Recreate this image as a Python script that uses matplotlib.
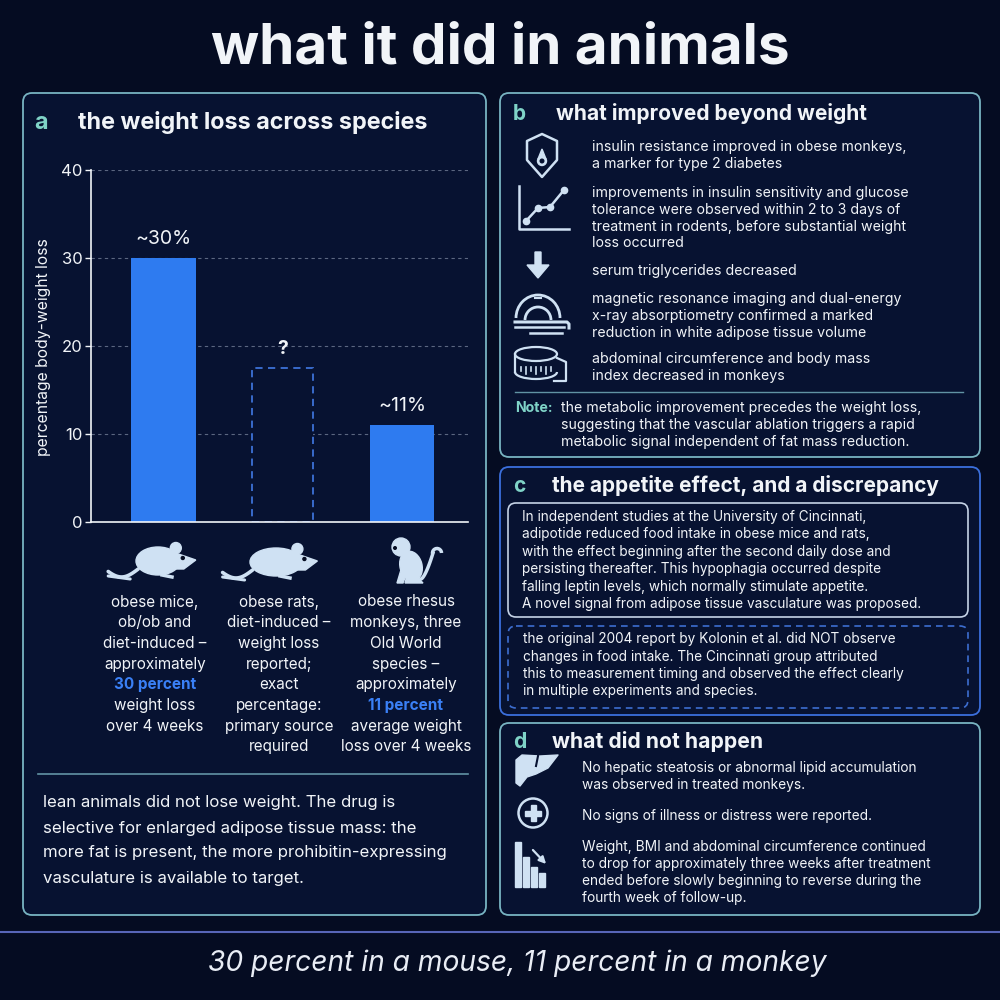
import matplotlib
matplotlib.use("Agg")
import matplotlib.pyplot as plt
import numpy as np
from matplotlib.patches import FancyBboxPatch, Ellipse, Circle, Polygon, Rectangle, Arc

plt.rcParams["font.family"] = ["Inter", "DejaVu Sans"]

BG = "#050c22"
PANEL = "#071231"
TEAL = "#7fd3c7"
BORDER = "#78b4c2"
BORDER_C = "#3b6fdc"
BLUE = "#2e7bf0"
HILITE = "#3a80f6"
WHITE = "#f1f4f8"
ICON = "#cfe1f3"
GRID = "#7f8ba3"

# ---- data -------------------------------------------------------------
species = ["mice", "rats", "monkeys"]
loss_pct = [30, 17.5, 11]          # rats: value unknown, drawn as a dashed placeholder
loss_known = [True, False, True]
bar_labels = ["~30%", "?", "~11%"]
yticks = [0, 10, 20, 30, 40]

species_text = [
    [("obese mice,", 0), ("ob/ob and", 0), ("diet-induced \u2013", 0), ("approximately", 0),
     ("30 percent", 1), ("weight loss", 0), ("over 4 weeks", 0)],
    [("obese rats,", 0), ("diet-induced \u2013", 0), ("weight loss", 0), ("reported;", 0),
     ("exact", 0), ("percentage:", 0), ("primary source", 0), ("required", 0)],
    [("obese rhesus", 0), ("monkeys, three", 0), ("Old World", 0), ("species \u2013", 0),
     ("approximately", 0), ("11 percent", 1), ("average weight", 0), ("loss over 4 weeks", 0)],
]

lean_note = [
    "lean animals did not lose weight. The drug is",
    "selective for enlarged adipose tissue mass: the",
    "more fat is present, the more prohibitin-expressing",
    "vasculature is available to target.",
]

improved_items = [
    ["insulin resistance improved in obese monkeys,", "a marker for type 2 diabetes"],
    ["improvements in insulin sensitivity and glucose",
     "tolerance were observed within 2 to 3 days of",
     "treatment in rodents, before substantial weight", "loss occurred"],
    ["serum triglycerides decreased"],
    ["magnetic resonance imaging and dual-energy",
     "x-ray absorptiometry confirmed a marked",
     "reduction in white adipose tissue volume"],
    ["abdominal circumference and body mass", "index decreased in monkeys"],
]
note_lines = [
    "the metabolic improvement precedes the weight loss,",
    "suggesting that the vascular ablation triggers a rapid",
    "metabolic signal independent of fat mass reduction.",
]

appetite_lines = [
    "In independent studies at the University of Cincinnati,",
    "adipotide reduced food intake in obese mice and rats,",
    "with the effect beginning after the second daily dose and",
    "persisting thereafter. This hypophagia occurred despite",
    "falling leptin levels, which normally stimulate appetite.",
    "A novel signal from adipose tissue vasculature was proposed.",
]
discrepancy_lines = [
    "the original 2004 report by Kolonin et al. did NOT observe",
    "changes in food intake. The Cincinnati group attributed",
    "this to measurement timing and observed the effect clearly",
    "in multiple experiments and species.",
]

not_happen_items = [
    ["No hepatic steatosis or abnormal lipid accumulation", "was observed in treated monkeys."],
    ["No signs of illness or distress were reported."],
    ["Weight, BMI and abdominal circumference continued",
     "to drop for approximately three weeks after treatment",
     "ended before slowly beginning to reverse during the",
     "fourth week of follow-up."],
]

# ---- canvas -----------------------------------------------------------
fig = plt.figure(figsize=(10, 10), dpi=100, facecolor=BG)
ax = fig.add_axes([0, 0, 1, 1])
ax.set_xlim(0, 1000)
ax.set_ylim(1000, 0)
ax.axis("off")
ax.set_facecolor(BG)


def panel(x0, y0, x1, y1, ec=BORDER, ls="-", fc=PANEL, lw=1.3, r=9):
    p = FancyBboxPatch((x0, y0), x1 - x0, y1 - y0,
                       boxstyle=f"round,pad=0,rounding_size={r}",
                       fc=fc, ec=ec, lw=lw, ls=ls)
    ax.add_patch(p)


def lines(x, y0, step, rows, size, color=WHITE, ha="left", weight="normal"):
    for i, r in enumerate(rows):
        ax.text(x, y0 + i * step, r, fontsize=size, color=color, ha=ha, va="center",
                fontweight=weight)


def heading(letter, title, x_l, x_t, y, size=15):
    ax.text(x_l, y, letter, fontsize=size, color=TEAL, fontweight="bold", va="center")
    ax.text(x_t, y, title, fontsize=size, color=WHITE, fontweight="bold", va="center")


ax.text(500, 48, "what it did in animals", fontsize=40.8, fontweight="bold",
        color=WHITE, ha="center", va="center")

panel(23, 93, 486, 915)
panel(500, 93, 980, 457)
panel(500, 467, 980, 715, ec=BORDER_C)
panel(500, 723, 980, 915)

# ---- panel a ----------------------------------------------------------
heading("a", "the weight loss across species", 34, 78, 123, size=16.8)

cax = fig.add_axes([0.091, 0.478, 0.377, 0.352])
cax.set_facecolor("none")
x = np.arange(len(species))
cax.set_xlim(-0.608, 2.553)
cax.set_ylim(0, 40)
for t in yticks[1:]:
    cax.axhline(t, color=GRID, lw=0.8, ls=(0, (3, 3)), alpha=0.7, zorder=0)
for xi, v, known, lab in zip(x, loss_pct, loss_known, bar_labels):
    if known:
        cax.bar(xi, v, width=0.54, color=BLUE, zorder=2)
    else:
        cax.bar(xi, v, width=0.51, facecolor=PANEL, edgecolor="#3d72d8", lw=1.3,
                ls=(0, (4, 3)), zorder=2)
    cax.annotate(lab, (xi, v), xytext=(0, 14), textcoords="offset points",
                 ha="center", va="center", fontsize=14, color=WHITE,
                 fontweight="bold" if lab == "?" else "normal")
cax.set_yticks(yticks)
cax.set_xticks([])
cax.tick_params(axis="y", colors=WHITE, labelsize=12, length=4, width=1, pad=2)
for s in ["top", "right"]:
    cax.spines[s].set_visible(False)
cax.spines["left"].set_color(WHITE)
cax.spines["bottom"].set_color(WHITE)
cax.spines["left"].set_linewidth(1.2)
cax.spines["bottom"].set_linewidth(1.2)
ax.text(44, 347, "percentage body-weight loss", rotation=90, fontsize=11.3,
        color=WHITE, ha="center", va="center")


# animal icons
def mouse(cx, cy, s=1.0, rat=False):
    bw = 44 if not rat else 52
    ax.add_patch(Ellipse((cx, cy), bw * s, 28 * s, color=ICON))
    hx = cx + bw * 0.45 * s
    ax.add_patch(Polygon([[hx - 8 * s, cy - 10 * s], [hx + 18 * s, cy - 1 * s],
                          [hx + 6 * s, cy + 8 * s], [hx - 10 * s, cy + 8 * s]], color=ICON))
    ax.add_patch(Circle((hx - 2 * s, cy - 13 * s), 5.5 * s, color=ICON))
    ax.add_patch(Circle((hx + 5 * s, cy - 3 * s), 1.5 * s, color=BG))
    tx = cx - bw * 0.45 * s
    tt = np.linspace(0, 1, 30)
    ax.plot(tx - 30 * s * tt, cy + 8 * s + 8 * s * np.sin(tt * np.pi * 0.9), color=ICON,
            lw=2.6, solid_capstyle="round")
    ax.plot(tx - 30 * s + 22 * s * tt, cy + 15 * s + 3 * s * tt, color=ICON, lw=2.2,
            solid_capstyle="round")
    ax.plot([cx + 4 * s, cx + 14 * s], [cy + 14 * s, cy + 16 * s], color=ICON, lw=2.5)


def monkey(cx, cy):
    ax.add_patch(Ellipse((cx + 2, cy + 5), 22, 30, angle=-15, color=ICON))
    ax.add_patch(Circle((cx - 8, cy - 14), 9, color=ICON))
    ax.add_patch(Circle((cx - 14, cy - 13), 1.3, color=BG))
    ax.add_patch(Polygon([[cx - 6, cy + 2], [cx - 12, cy + 22], [cx - 6, cy + 22],
                          [cx + 1, cy + 4]], color=ICON))
    ax.add_patch(Polygon([[cx + 2, cy + 10], [cx + 14, cy + 22], [cx - 4, cy + 22],
                          [cx - 2, cy + 14]], color=ICON))
    tt = np.linspace(0, 1, 40)
    ax.plot(cx + 12 + 12 * tt, cy + 18 - 26 * tt ** 1.5, color=ICON, lw=2.5)
    ax.add_patch(Arc((cx + 28, cy - 8), 9, 9, theta1=170, theta2=360, color=ICON, lw=2.5))


mouse(158, 561)
mouse(276, 562, rat=True)
monkey(409, 561)

col_x = [155, 279, 406]
for cxx, rows in zip(col_x, species_text):
    for i, (txt, hl) in enumerate(rows):
        ax.text(cxx, 602 + i * 20.7, txt, fontsize=11.0, ha="center", va="center",
                color=HILITE if hl else WHITE, fontweight="bold" if hl else "normal")

ax.plot([38, 468], [774, 774], color=BORDER, lw=1.2, alpha=0.8)
lines(43, 803, 25, lean_note, 12.1)

# ---- panel b ----------------------------------------------------------
heading("b", "what improved beyond weight", 513, 556, 114, size=15.1)
item_y = [147, 193, 271, 299, 359]
for y0, rows in zip(item_y, improved_items):
    lines(592, y0, 16.8, rows, 10.2)

# shield with drop
ax.add_patch(Polygon([[527, 141], [542, 134], [557, 141], [557, 160], [542, 177],
                      [527, 160]], closed=True, fc="none", ec=ICON, lw=1.8, joinstyle="round"))
ax.add_patch(Circle((542, 161), 4.5, color=ICON))
ax.add_patch(Polygon([[538, 159], [542, 149], [546, 159]], color=ICON))
ax.add_patch(Circle((542, 161), 1.8, color=PANEL))
# line chart
ax.plot([519, 519, 569], [186, 229, 229], color=ICON, lw=1.8)
ax.plot([526, 538, 550, 564], [221, 208, 207, 190], color=ICON, lw=1.8, marker="o",
        ms=4.5)
# down arrow
ax.add_patch(Polygon([[535, 252], [541, 252], [541, 265], [549, 265], [538, 278],
                      [527, 265], [535, 265]], color=ICON))
# MRI scanner (y axis is inverted, so the upper half is 180..360)
ax.add_patch(Arc((538, 318), 44, 46, theta1=180, theta2=360, color=ICON, lw=2.0))
ax.add_patch(Arc((538, 320), 26, 26, theta1=180, theta2=360, color=ICON, lw=2.0))
ax.plot([535, 541], [298, 298], color=ICON, lw=1.5)
ax.plot([515, 567, 569, 569], [322, 322, 324, 328], color=ICON, lw=2.2)
ax.plot([515, 564], [327, 327], color=ICON, lw=1.8)
ax.plot([530, 562], [333, 333], color=ICON, lw=1.8)
# measuring tape
ax.add_patch(Ellipse((536, 354), 42, 14, fc="none", ec=ICON, lw=1.6))
ax.plot([515, 515], [354, 372], color=ICON, lw=1.6)
ax.add_patch(Arc((536, 372), 42, 14, theta1=0, theta2=180, color=ICON, lw=1.6))
ax.plot([557, 566, 566, 554], [358, 362, 381, 381], color=ICON, lw=1.6)
for tx in [521, 526, 531, 536, 541, 546, 551]:
    ax.plot([tx, tx], [367, 371 if tx % 2 else 374], color=ICON, lw=1.2)

ax.plot([515, 963], [392, 392], color=BORDER, lw=1.0, alpha=0.8)
ax.text(515, 408, "Note:", fontsize=10.2, color=TEAL, fontweight="bold", va="center")
lines(561, 408, 17, note_lines, 10.2)

# ---- panel c ----------------------------------------------------------
heading("c", "the appetite effect, and a discrepancy", 513, 552, 486, size=15)
panel(508, 503, 968, 617, ec="#c5d3e6", lw=1.2, r=8)
lines(522, 517, 17.4, appetite_lines, 9.8)
panel(508, 626, 968, 708, ec="#3d6ed0", ls=(0, (4, 3)), lw=1.2, r=8)
lines(523, 639, 17.5, discrepancy_lines, 9.8)

# ---- panel d ----------------------------------------------------------
heading("d", "what did not happen", 513, 552, 742, size=15.2)
for y0, rows in zip([768, 816, 847], not_happen_items):
    lines(582, y0, 16.9, rows, 9.9)

# liver
ax.add_patch(Polygon([[516, 760], [522, 755], [540, 756], [558, 755], [548, 768],
                      [536, 774], [527, 777], [520, 786], [516, 783]],
                     closed=True, color=ICON, joinstyle="round"))
ax.plot([538, 536], [756, 766], color=PANEL, lw=1.5)
# plus in circle
ax.add_patch(Circle((533, 813), 14.5, fc="none", ec=ICON, lw=1.8))
ax.add_patch(Rectangle((530.5, 805), 5, 16, color=ICON))
ax.add_patch(Rectangle((525, 810.5), 16, 5, color=ICON))
# bars with arrow
for bx, bt in zip([515, 523, 531, 539], [842, 857, 867, 873]):
    ax.add_patch(Rectangle((bx, bt), 6, 887 - bt, color=ICON))
ax.annotate("", xy=(548, 866), xytext=(531, 848),
            arrowprops=dict(arrowstyle="-|>", color=ICON, lw=1.6, mutation_scale=10))

# ---- footer -----------------------------------------------------------
ax.plot([0, 1000], [932, 932], color="#5866b8", lw=1.5)
ax.text(517, 963, "30 percent in a mouse, 11 percent in a monkey", fontsize=20.3,
        style="italic", color="#e9edf5", ha="center", va="center")

fig.savefig("out.png", dpi=100, facecolor=BG)
